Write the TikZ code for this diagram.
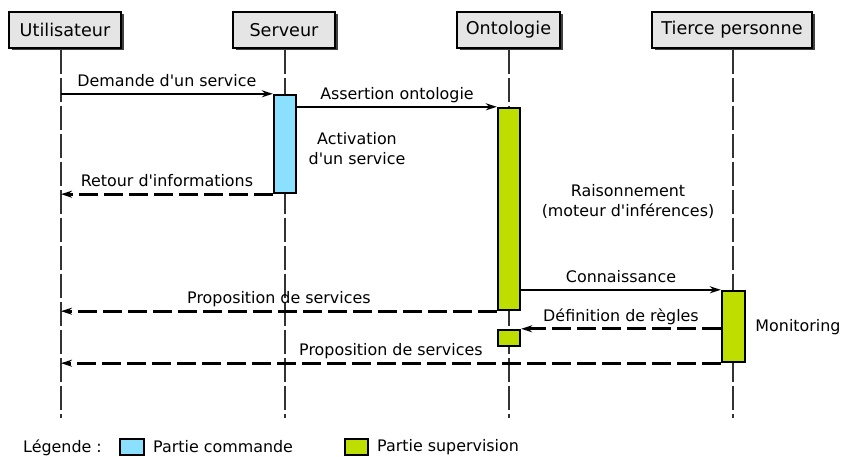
\documentclass[tikz,border=0pt]{standalone}
\usepackage{fontspec}
\setmainfont{DejaVu Sans}[Ligatures=TeXOff]
\usepackage{tikz}
\usetikzlibrary{arrows.meta,shadows}
\definecolor{headgray}{RGB}{229,229,229}
\definecolor{cmdblue}{RGB}{140,224,255}
\definecolor{supgreen}{RGB}{190,222,0}
\definecolor{lifegray}{RGB}{51,51,51}

\begin{document}
\begin{tikzpicture}[x=1pt, y=-1pt, >={Stealth[length=11pt,width=7pt]},
    actor/.style={draw, line width=1.8pt, fill=headgray, minimum height=36pt, inner sep=0pt,
        font=\fontsize{17.6pt}{20pt}\selectfont,
        drop shadow={shadow xshift=2.5pt, shadow yshift=-2.5pt, fill=black!75, opacity=1}},
    lifeline/.style={lifegray, line width=2.8pt, dash pattern=on 24pt off 4pt},
    activ/.style={draw, line width=2.4pt, minimum width=22pt, inner sep=0pt},
    msg/.style={->, line width=2.5pt},
    reply/.style={->, line width=2.8pt, dash pattern=on 19pt off 6pt},
    msglabel/.style={above, inner sep=0pt, yshift=6pt, text depth=0pt,
        font=\fontsize{15.9pt}{18pt}\selectfont},
    note/.style={align=center, inner sep=0pt, font=\fontsize{15.9pt}{20pt}\selectfont}]
    \useasboundingbox (0,0) rectangle (841,457);

    % Actors
    \node[actor, minimum width=112pt] (utilisateur) at (65,30) {Utilisateur};
    \node[actor, minimum width=102pt] (serveur) at (284,30) {Serveur};
    \node[actor, minimum width=103pt] (ontologie) at (508.5,30) {Ontologie};
    \node[actor, minimum width=160pt] (tierce) at (732,30) {Tierce personne};

    % Lifelines
    \coordinate (uTop) at (61,50);  \coordinate (uBot) at (61,418);
    \coordinate (sTop) at (285,50); \coordinate (sBot) at (285,418);
    \coordinate (oTop) at (509,50); \coordinate (oBot) at (509,418);
    \coordinate (tTop) at (733,50); \coordinate (tBot) at (733,418);
    \draw[lifeline] (uTop) -- (uBot);
    \draw[lifeline] (sTop) -- (sBot);
    \draw[lifeline] (oTop) -- (oBot);
    \draw[lifeline] (tTop) -- (tBot);

    % Activation boxes
    \node[activ, fill=cmdblue, minimum height=98pt] (actServeur) at (285,144) {};
    \node[activ, fill=supgreen, minimum height=202pt] (actOnto) at (509,209) {};
    \node[activ, fill=supgreen, minimum width=23pt, minimum height=71pt] (actTierce) at (733.5,326.5) {};
    \node[activ, fill=supgreen, minimum height=16pt] (actOntoB) at (509,338) {};

    % Messages
    \draw[msg] (actServeur.north west -| uTop) -- (actServeur.north west)
        node[msglabel, midway] {Demande d'un service};
    \draw[msg] (actOnto.north west -| actServeur.east) -- (actOnto.north west)
        node[msglabel, midway] {Assertion ontologie};
    \draw[reply] (actServeur.south west) -- (actServeur.south west -| uTop)
        node[msglabel, midway] {Retour d'informations};
    \draw[msg] (actTierce.north west -| actOnto.east) -- (actTierce.north west)
        node[msglabel, midway] {Connaissance};
    \draw[reply] (actOnto.south west) -- (actOnto.south west -| uTop)
        node[msglabel, midway] {Proposition de services};
    \draw[reply] (actOntoB.north east -| actTierce.west) -- (actOntoB.north east)
        node[msglabel, midway] {Définition de règles};
    \draw[reply] (actTierce.south west) -- (actTierce.south west -| uTop)
        node[msglabel, midway] {Proposition de services};

    % Notes
    \node[note] (activation) at (357,149) {Activation\\d'un service};
    \node[note] (raisonnement) at (628,202) {Raisonnement\\(moteur d'inférences)};
    \node[note] (monitoring) at (798,327) {Monitoring};

    % Legend
    \node[note, anchor=west] (legTitle) at (23,448) {Légende :};
    \node[draw, line width=1.8pt, fill=cmdblue, minimum width=24pt, minimum height=16pt, inner sep=0pt] (legCmd) at (132,447) {};
    \node[note, anchor=west] (legCmdText) at (153,447) {Partie commande};
    \node[draw, line width=1.8pt, fill=supgreen, minimum width=23pt, minimum height=16pt, inner sep=0pt] (legSup) at (356.5,447) {};
    \node[note, anchor=west] (legSupText) at (377,447) {Partie supervision};
\end{tikzpicture}
\end{document}
